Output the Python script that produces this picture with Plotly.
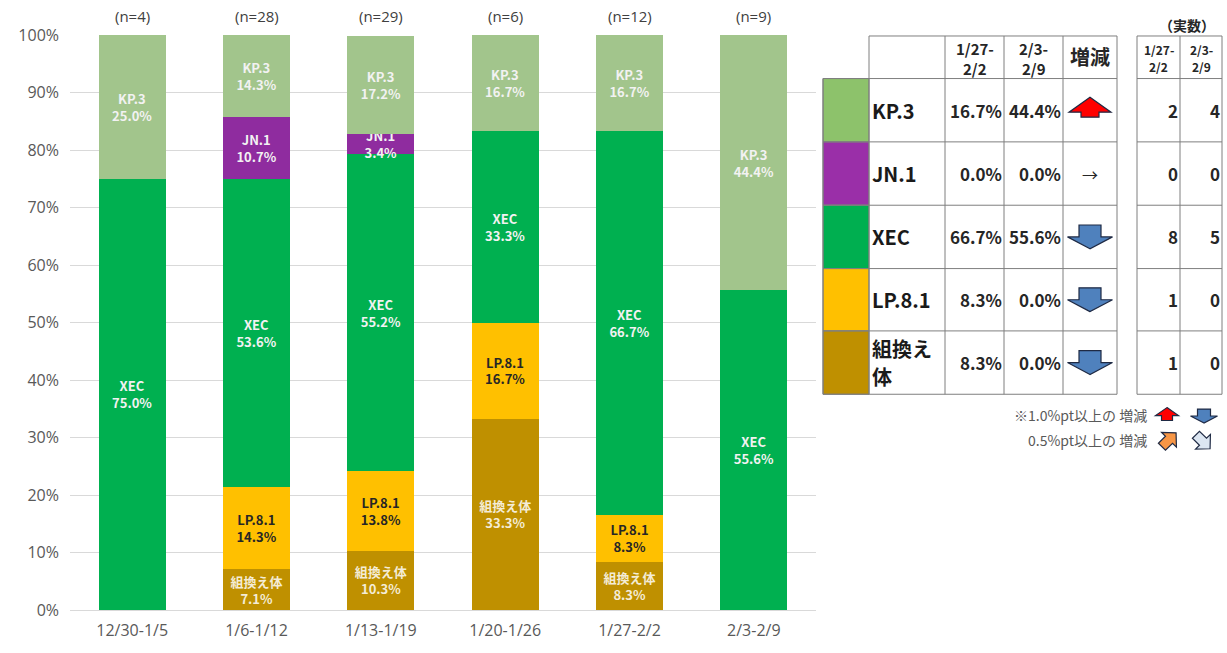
import math
import plotly.graph_objects as go

# ---------------- data ----------------
categories = ["12/30-1/5", "1/6-1/12", "1/13-1/19", "1/20-1/26", "1/27-2/2", "2/3-2/9"]
n_counts = [4, 28, 29, 6, 12, 9]

recomb = [0, 7.1, 10.3, 33.3, 8.3, 0]      # 組換え体
lp81 = [0, 14.3, 13.8, 16.7, 8.3, 0]       # LP.8.1
xec = [75.0, 53.6, 55.2, 33.3, 66.7, 55.6]  # XEC
jn1 = [0, 10.7, 3.4, 0, 0, 0]               # JN.1
kp3 = [25.0, 14.3, 17.2, 16.7, 16.7, 44.4]  # KP.3

y_ticks = [0, 10, 20, 30, 40, 50, 60, 70, 80, 90, 100]

# stacking order bottom -> top
series = [
    ("組換え体", recomb, "#BF9000", "#F4ECD6"),
    ("LP.8.1", lp81, "#FFC000", "#262626"),
    ("XEC", xec, "#00B050", "#F2F2F2"),
    ("JN.1", jn1, "#8F2C9F", "#F2F2F2"),
    ("KP.3", kp3, "#A2C58C", "#F2F2F2"),
]
swatch_colors = {"KP.3": "#8DC26B", "JN.1": "#9A2FA8", "XEC": "#00AF50",
                 "LP.8.1": "#FFC000", "組換え体": "#BF9000"}
table_order = ["KP.3", "JN.1", "XEC", "LP.8.1", "組換え体"]
table_names = {"KP.3": ["KP.3"], "JN.1": ["JN.1"], "XEC": ["XEC"], "LP.8.1": ["LP.8.1"],
               "組換え体": ["組換え", "体"]}
prev_lbl = ["1/27-", "2/2"]
curr_lbl = ["2/3-", "2/9"]

# ---------------- geometry helpers ----------------
W, H = 1227, 653
L, R, T, B = 70, 816, 35, 616


def px(x):
    return (x - L) / (R - L)


def py(y):
    return (B - y) / (B - T)


fig = go.Figure()

for name, vals, color, tcolor in series:
    texts = [f"{name}<br>{v:.1f}%" if v > 0 else "" for v in vals]
    fig.add_trace(go.Bar(
        x=categories, y=vals, name=name, marker=dict(color=color, line=dict(width=0)),
        text=texts, textposition="inside", insidetextanchor="middle", textangle=0,
        textfont=dict(family="Noto Sans CJK JP", size=13, color=tcolor, weight="bold"),
        hoverinfo="skip", showlegend=False,
    ))

annotations = []
for c, n in zip(categories, n_counts):
    annotations.append(dict(x=c, y=py(16), xref="x", yref="paper", text=f"(n={n})",
                            showarrow=False, yanchor="middle", borderpad=0,
                            font=dict(family="Open Sans", size=15, color="#404040")))

shapes = []
GRID = "#7F7F7F"


def hline(x0, x1, y):
    shapes.append(dict(type="line", xref="paper", yref="paper", x0=px(x0), x1=px(x1),
                       y0=py(y), y1=py(y), line=dict(color=GRID, width=1)))


def vline(x, y0, y1):
    shapes.append(dict(type="line", xref="paper", yref="paper", x0=px(x), x1=px(x),
                       y0=py(y0), y1=py(y1), line=dict(color=GRID, width=1)))


def text(x, y, s, size=15, anchor="center", color="#262626", bold=True,
         family="Noto Sans CJK JP"):
    annotations.append(dict(x=px(x), y=py(y), xref="paper", yref="paper", text=s,
                            showarrow=False, xanchor=anchor, yanchor="middle", borderpad=0,
                            font=dict(family=family, size=size, color=color,
                                      weight="bold" if bold else "normal")))


def lines(x, y, parts, gap, **kw):
    y0 = y - gap * (len(parts) - 1) / 2
    for k, s in enumerate(parts):
        text(x, y0 + k * gap, s, **kw)


def arrow(cx, cy, w, h, head_h, shaft_w, angle, fill, line="#1F2A44"):
    pts = [(0, -h / 2), (w / 2, -h / 2 + head_h), (shaft_w / 2, -h / 2 + head_h),
           (shaft_w / 2, h / 2), (-shaft_w / 2, h / 2), (-shaft_w / 2, -h / 2 + head_h),
           (-w / 2, -h / 2 + head_h)]
    a = math.radians(angle)
    out = []
    for x, y in pts:
        rx = x * math.cos(a) - y * math.sin(a)
        ry = x * math.sin(a) + y * math.cos(a)
        out.append((px(cx + rx), py(cy + ry)))
    path = "M " + " L ".join(f"{x:.5f},{y:.5f}" for x, y in out) + " Z"
    shapes.append(dict(type="path", xref="paper", yref="paper", path=path,
                       fillcolor=fill, line=dict(color=line, width=1.2)))


# ---------------- table ----------------
row_edges = [79, 143, 207, 271, 334, 398]
hdr_top = 36
col_sw = (823, 869)
col_edges = [869, 945, 1004, 1063, 1117]
col2_edges = [1137, 1180, 1222]

# swatches
for i, v in enumerate(table_order):
    shapes.append(dict(type="rect", xref="paper", yref="paper", x0=px(col_sw[0]), x1=px(col_sw[1]),
                       y0=py(row_edges[i + 1]), y1=py(row_edges[i]),
                       fillcolor=swatch_colors[v], line=dict(color=GRID, width=1)))

# main table grid
hline(col_edges[0], col_edges[-1], hdr_top)
for y in row_edges:
    hline(col_sw[0], col_edges[-1], y)
for x in col_edges:
    vline(x, hdr_top, row_edges[-1])
vline(col_sw[0], row_edges[0], row_edges[-1])

# count table grid
hline(col2_edges[0], col2_edges[-1], hdr_top)
for y in row_edges:
    hline(col2_edges[0], col2_edges[-1], y)
for x in col2_edges:
    vline(x, hdr_top, row_edges[-1])

lines((col_edges[1] + col_edges[2]) / 2, 59, prev_lbl, 20, size=15)
lines((col_edges[2] + col_edges[3]) / 2, 59, curr_lbl, 20, size=15)
text((col_edges[3] + col_edges[4]) / 2, 57, "増減", size=20)
lines((col2_edges[0] + col2_edges[1]) / 2, 58, prev_lbl, 17, size=12)
lines((col2_edges[1] + col2_edges[2]) / 2, 58, curr_lbl, 17, size=12)
text(1187, 25, "（実数）", size=14)

series_map = {s[0]: s[1] for s in series}
i_prev, i_curr = 4, 5
for i, v in enumerate(table_order):
    yc = (row_edges[i] + row_edges[i + 1]) / 2
    vals = series_map[v]
    p, c = vals[i_prev], vals[i_curr]
    lines(871, yc, table_names[v], 28, size=20, anchor="left", color="#1A1A1A")
    text(col_edges[2] - 1, yc, f"{p:.1f}%", size=17, anchor="right")
    text(col_edges[3] - 1, yc, f"{c:.1f}%", size=17, anchor="right")
    cx = (col_edges[3] + col_edges[4]) / 2
    d = c - p
    if d >= 1.0:
        arrow(cx, yc - 3, 42, 20, 15, 18, 0, "#FF0000")
    elif d <= -1.0:
        arrow(cx, yc, 45, 24, 12, 22, 180, "#4F81BD")
    else:
        text(cx, yc, "→", size=16, bold=False)
    cp = round(p * n_counts[i_prev] / 100)
    cc = round(c * n_counts[i_curr] / 100)
    text(col2_edges[1] - 1, yc, f"{cp}", size=17, anchor="right")
    text(col2_edges[2] - 1, yc, f"{cc}", size=17, anchor="right")

# note
text(1148, 419, "※1.0%pt以上の 増減", size=14, anchor="right", color="#595959", bold=False)
text(1148, 444, "0.5%pt以上の 増減", size=14, anchor="right", color="#595959", bold=False)
arrow(1167, 418, 23, 13, 8, 11, 0, "#FF0000")
arrow(1204, 420, 27, 14, 7, 13, 180, "#4F81BD")
arrow(1169, 444, 21, 20, 10, 10, 45, "#F79646")
arrow(1203, 446, 21, 20, 10, 10, 135, "#DCE6F2")

fig.update_layout(
    barmode="stack", bargap=0.46,
    width=W, height=H,
    margin=dict(l=L, r=W - R, t=T, b=H - B),
    paper_bgcolor="white", plot_bgcolor="white",
    uniformtext=dict(minsize=13, mode="show"),
    annotations=annotations, shapes=shapes,
    xaxis=dict(showgrid=False, showline=True, linecolor="#D9D9D9", ticks="",
               tickfont=dict(family="Open Sans", size=16, color="#595959"),
               ticklabelstandoff=6, fixedrange=True),
    yaxis=dict(range=[0, 100], tickvals=y_ticks, ticktext=[f"{v}%" for v in y_ticks],
               showgrid=True, gridcolor="#D9D9D9", gridwidth=1, zeroline=False,
               ticks="", ticklabelstandoff=10,
               tickfont=dict(family="Open Sans", size=16, color="#595959"), fixedrange=True),
)

fig.write_html("out.html", config={"displayModeBar": False},
               post_script="document.body.style.margin='0';")
